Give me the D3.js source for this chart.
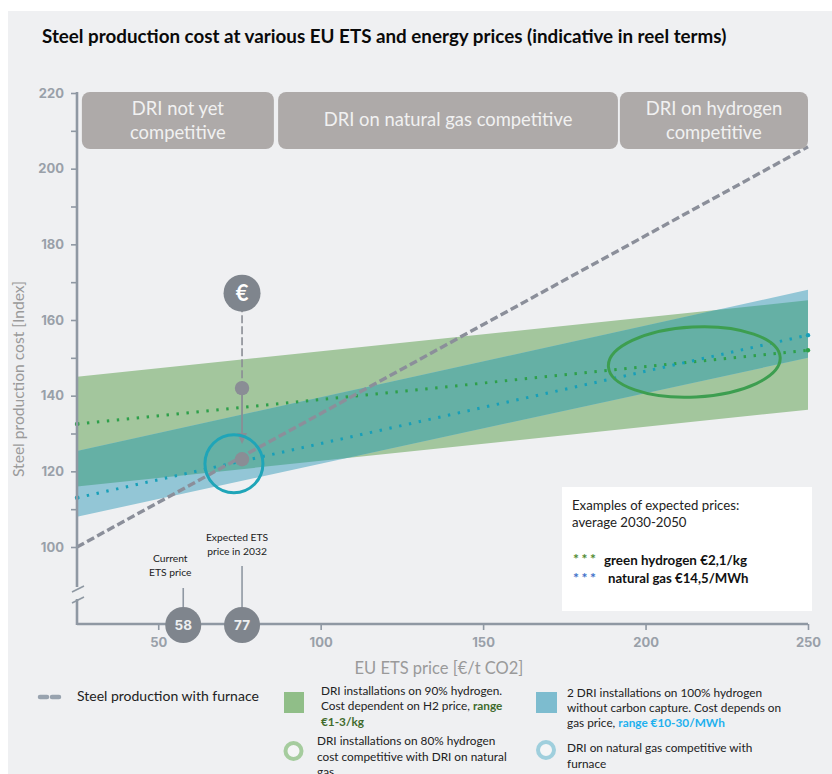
<!DOCTYPE html>
<html><head><meta charset="utf-8">
<script src="https://d3js.org/d3.v7.min.js"></script>
<style>html,body{margin:0;padding:0;background:#fff;overflow:hidden}svg{display:block}text{font-family:Lato,sans-serif}</style>
</head><body><div id="c"></div>
<script>
const etsEnds=[25,250];
const furnace=[100,205.8];
const greenTop=[145,165.2];
const greenBottom=[116,136.3];
const blueTop=[125.4,168];
const blueBottom=[108,150];
const greenDots=[132.5,152];
const blueDots=[113,156];
const yTicks=[100,110,120,130,140,150,160,170,180,190,200,210,220];
const xTicks=[50,100,150,200,250];
const zoneEdges=[[26.5,85.6],[86.9,191.5],[192.1,250]];
const zoneLabels=[["DRI not yet","competitive"],["DRI on natural gas competitive"],["DRI on hydrogen","competitive"]];
const etsMarkers=[57.7,75.8];
const etsMarkerLabels=["58","77"];
const etsDots=[142,123.2];
const euroValue=167.1;

const W=832,H=774;
const svg=d3.select("#c").append("svg").attr("width",W).attr("height",H);
const x=d3.scaleLinear().domain([25,250]).range([77,808]);
const y=d3.scaleLinear().domain([100,220]).range([547,93]);
svg.append("rect").attr("x",8).attr("y",11).attr("width",W-8).attr("height",H-11).attr("fill","#eff0f2");

svg.append("text").attr("x",42).attr("y",43).attr("font-size",18.8).attr("font-weight",700).attr("fill","#0a0a0a")
 .text("Steel production cost at various EU ETS and energy prices (indicative in reel terms)");

// bands
const rows=etsEnds.map((e,i)=>({e,gt:greenTop[i],gb:greenBottom[i],bt:blueTop[i],bb:blueBottom[i]}));
const gArea=d3.area().x(d=>x(d.e)).y0(d=>y(d.gb)).y1(d=>y(d.gt));
const bArea=d3.area().x(d=>x(d.e)).y0(d=>y(d.bb)).y1(d=>y(d.bt));
svg.append("clipPath").attr("id","gc").append("path").attr("d",gArea(rows));
svg.append("path").attr("d",gArea(rows)).attr("fill","#a3c69d");
svg.append("path").attr("d",bArea(rows)).attr("fill","#93c6d6");
svg.append("path").attr("d",bArea(rows)).attr("fill","#65b0a5").attr("clip-path","url(#gc)");

// lines
const ln=d3.line().x((d,i)=>x(etsEnds[i])).y(d=>y(d));
svg.append("path").attr("d",ln(greenDots)).attr("fill","none").attr("stroke","#2e9f4a").attr("stroke-width",3).attr("stroke-dasharray","2.4 7.6");
svg.append("path").attr("d",ln(blueDots)).attr("fill","none").attr("stroke","#189fb8").attr("stroke-width",3).attr("stroke-dasharray","2.4 7.6");
svg.selectAll(".endg").data(greenDots).join("circle").attr("cx",(d,i)=>x(etsEnds[i])).attr("cy",d=>y(d)).attr("r",2.2).attr("fill","#2e9f4a");
svg.selectAll(".endb").data(blueDots).join("circle").attr("cx",(d,i)=>x(etsEnds[i])).attr("cy",d=>y(d)).attr("r",2.2).attr("fill","#189fb8");
svg.append("path").attr("d",ln(furnace)).attr("fill","none").attr("stroke","#8b8f9a").attr("stroke-width",3.4).attr("stroke-dasharray","8 3.5");

// zones
zoneEdges.forEach((z,i)=>{
 const x0=x(z[0]),x1=x(z[1]);
 svg.append("rect").attr("x",x0).attr("y",92).attr("width",x1-x0).attr("height",57).attr("rx",8).attr("fill","#aeaaa9");
 const ls=zoneLabels[i];
 ls.forEach((t,j)=>svg.append("text").attr("x",(x0+x1)/2).attr("y",(ls.length==1?126:115+24*j)).attr("text-anchor","middle")
   .attr("font-size",18.4).attr("fill","#f1f1f1").text(t));
});

// axes
const axCol="#8f98a3";
const yAx=svg.append("g").attr("transform","translate(77,0)")
 .call(d3.axisLeft(y).tickValues(yTicks).tickSize(6).tickFormat(d=>d%20===0?d:""));
const xAx=svg.append("g").attr("transform","translate(0,624)")
 .call(d3.axisBottom(x).tickValues(xTicks).tickSize(6).tickFormat(d=>d));
[yAx,xAx].forEach(a=>{a.select(".domain").remove();a.selectAll("line").attr("stroke",axCol).attr("stroke-width",1.6);
 a.selectAll("text").attr("fill","#99a0a9").style("font-family","Inter").attr("font-weight",700).attr("font-size",13);});
yAx.selectAll("text").attr("x",-13);
xAx.selectAll("text").attr("y",14);
const seg=(a,b,c,d,w=2.6)=>svg.append("line").attr("x1",a).attr("y1",b).attr("x2",c).attr("y2",d).attr("stroke",axCol).attr("stroke-width",w);
seg(77,92,77,587);seg(77,599,77,625);seg(77,624,x(250),624);
seg(72,592,84,586,1.6);seg(72,603,84,597,1.6);

svg.append("text").attr("transform","translate(24,379) rotate(-90)").attr("text-anchor","middle").attr("font-size",15.6).attr("fill","#9a9a9a").text("Steel production cost [Index]");
svg.append("text").attr("x",439).attr("y",674).attr("text-anchor","middle").attr("font-size",16.5).attr("fill","#9a9a9a").text("EU ETS price [€/t CO2]");

// ETS markers
const mk=x(etsMarkers[1]);
const mkTops=[588,566];
etsMarkers.forEach((m,i)=>{
 seg(x(m),mkTops[i],x(m),610,1.6);
 svg.append("circle").attr("cx",x(m)).attr("cy",625).attr("r",18).attr("fill","#7f858d");
 svg.append("text").attr("x",x(m)).attr("y",630).attr("text-anchor","middle").attr("fill","#eceef0").style("font-family","Inter").attr("font-weight",700).attr("font-size",13.5).text(etsMarkerLabels[i]);
});
[["Current",562],["ETS price",576]].forEach(t=>svg.append("text").attr("x",x(etsMarkers[0])-13).attr("y",t[1]).attr("text-anchor","middle").attr("font-size",10.3).attr("fill","#222").text(t[0]));
[["Expected ETS",541],["price in 2032",555]].forEach(t=>svg.append("text").attr("x",mk-5).attr("y",t[1]).attr("text-anchor","middle").attr("font-size",10.3).attr("fill","#222").text(t[0]));

// euro connector
svg.append("line").attr("x1",mk).attr("x2",mk).attr("y1",y(euroValue)).attr("y2",y(etsDots[0])).attr("stroke","#8a8d95").attr("stroke-width",1.6).attr("stroke-dasharray","8 3");
svg.append("line").attr("x1",mk).attr("x2",mk).attr("y1",y(etsDots[0])).attr("y2",y(etsDots[1])-20).attr("stroke","#8a8d95").attr("stroke-width",1.8);
svg.append("path").attr("d",d3.line()([[mk-5,433],[mk+5,433],[mk,444]])+"Z").attr("fill","#8a8d95");
etsDots.forEach(v=>svg.append("circle").attr("cx",mk).attr("cy",y(v)).attr("r",7.2).attr("fill","#8a8d95"));
svg.append("circle").attr("cx",mk).attr("cy",y(euroValue)).attr("r",18.5).attr("fill","#7f858d");
svg.append("text").attr("x",mk).attr("y",y(euroValue)+8).attr("text-anchor","middle").attr("fill","#fff").attr("font-weight",700).attr("font-size",22).text("€");

// ellipses
svg.append("ellipse").attr("cx",x(73.3)).attr("cy",y(122)).attr("rx",29).attr("ry",29).attr("fill","none").attr("stroke","#1fa5b8").attr("stroke-width",3);
svg.append("ellipse").attr("transform",`translate(${x(215)},${y(148.9)}) rotate(-3)`).attr("rx",86).attr("ry",35).attr("fill","none").attr("stroke","#3d9e50").attr("stroke-width",3);

// examples box
svg.append("rect").attr("x",562).attr("y",487).attr("width",250).attr("height",124).attr("fill","#fff");
const t=(tx,ty,s,o={})=>svg.append("text").attr("x",tx).attr("y",ty).attr("font-size",o.size||13.2).attr("font-weight",o.w||400).attr("fill",o.c||"#222").text(s);
t(572,510,"Examples of expected prices:");
t(572,527,"average 2030-2050");
t(573,564,"***",{c:"#4f8a2e",w:700,size:14}).attr("letter-spacing",2.5);
t(604,565,"green hydrogen €2,1/kg",{w:700,size:13.4,c:"#111"});
t(573,583,"***",{c:"#3d6fc9",w:700,size:14}).attr("letter-spacing",2.5);
t(608,583,"natural gas €14,5/MWh",{w:700,size:13.2,c:"#111"});

// legend
const LS=11.8;
svg.append("line").attr("x1",40).attr("x2",60).attr("y1",697).attr("y2",697).attr("stroke","#98a3af").attr("stroke-width",4.5).attr("stroke-linecap","round").attr("stroke-dasharray","7 5");
t(77,701,"Steel production with furnace",{size:14});
svg.append("rect").attr("x",284).attr("y",692).attr("width",20).attr("height",21).attr("fill","#90be88");
svg.append("rect").attr("x",536).attr("y",692).attr("width",21).attr("height",21).attr("fill","#7dbccf");
t(321,695,"DRI installations on 90% hydrogen.",{size:LS});
const l2=t(321,710,"Cost dependent on H2 price, ",{size:LS});
l2.append("tspan").attr("font-weight",700).attr("fill","#3f6b2d").text("range");
t(321,726,"€1-3/kg",{size:LS,w:700,c:"#3f6b2d"});
t(567,697,"2 DRI installations on 100% hydrogen",{size:LS});
t(567,712,"without carbon capture. Cost depends on",{size:LS});
const l3=t(567,727,"gas price, ",{size:LS});
l3.append("tspan").attr("font-weight",700).attr("fill","#1eb0ee").text("range €10-30/MWh");
t(317,745,"DRI installations on 80% hydrogen",{size:LS});
t(317,761,"cost competitive with DRI on natural",{size:LS});
t(317,776,"gas",{size:LS});
t(567,752,"DRI on natural gas competitive with",{size:LS});
t(567,768,"furnace",{size:LS});
svg.append("circle").attr("cx",293.5).attr("cy",751).attr("r",8).attr("fill","#f4f5f6").attr("stroke","#a5cc9e").attr("stroke-width",4);
svg.append("circle").attr("cx",546).attr("cy",750).attr("r",8).attr("fill","#f4f5f6").attr("stroke","#9fcfdd").attr("stroke-width",4);
</script></body></html>
